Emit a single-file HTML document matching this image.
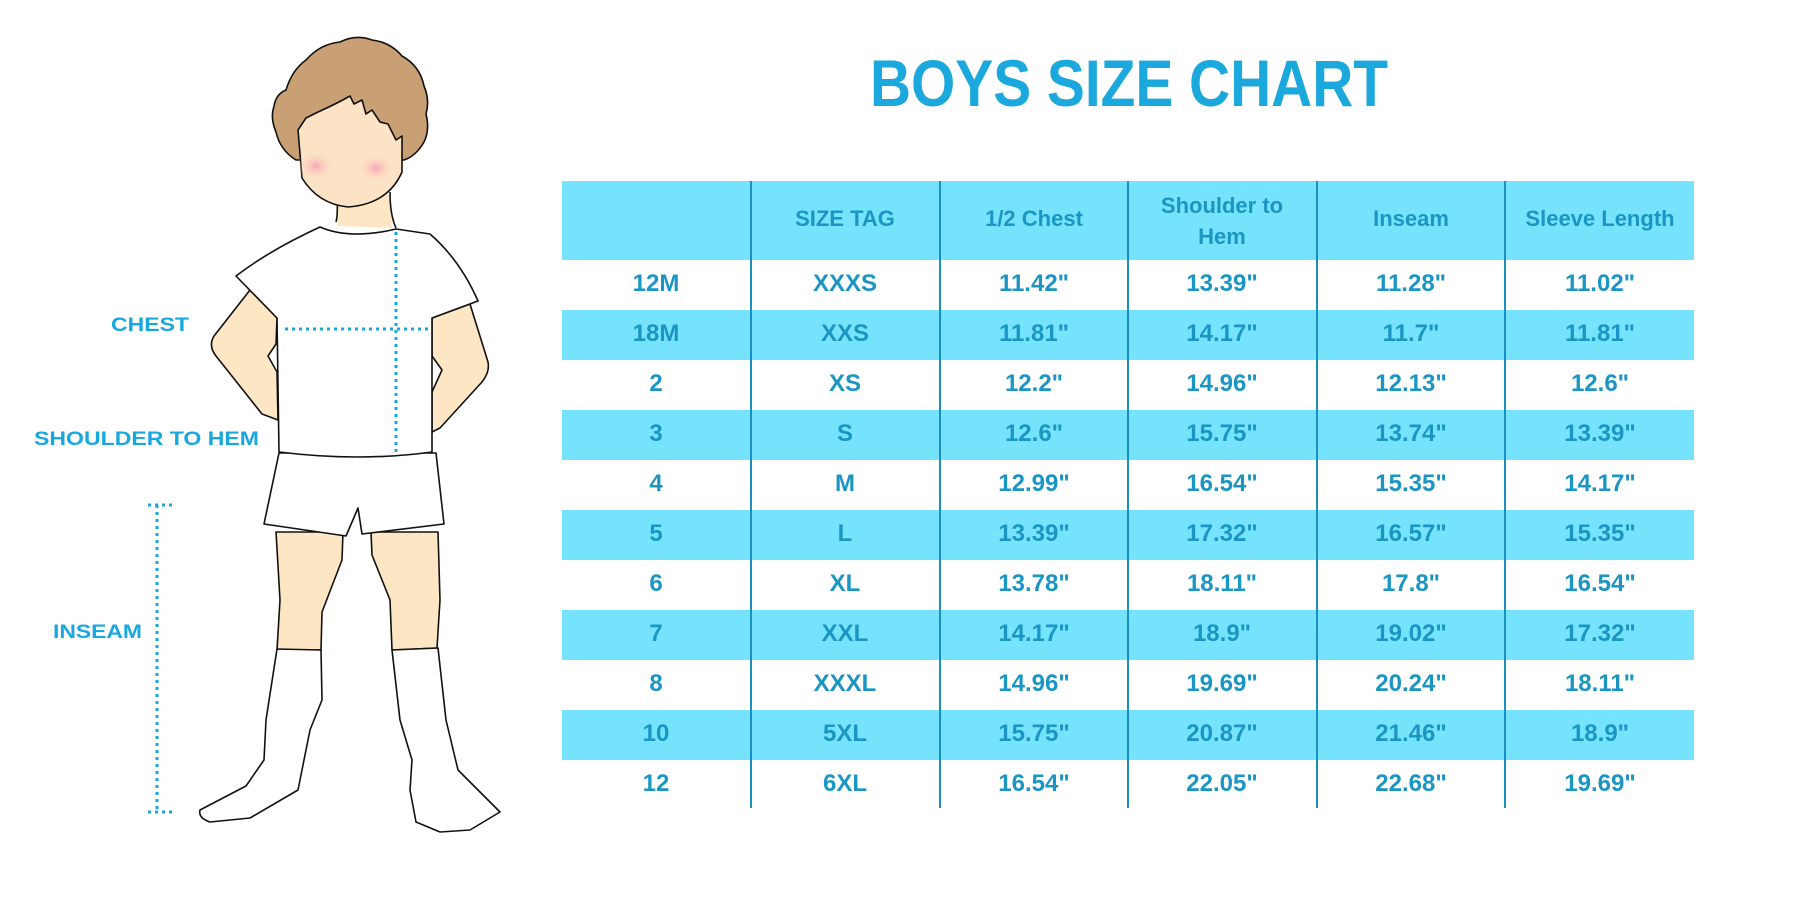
<!DOCTYPE html>
<html><head><meta charset="utf-8"><style>
html,body{margin:0;padding:0;background:#fff;}
svg{display:block;}
text{font-family:"Liberation Sans",sans-serif;font-weight:bold;}
</style></head><body>
<svg width="1800" height="900" viewBox="0 0 1800 900" xmlns="http://www.w3.org/2000/svg">
<rect width="1800" height="900" fill="#fff"/>
<text x="1129" y="106" font-size="66" fill="#1ba8dc" text-anchor="middle" textLength="518" lengthAdjust="spacingAndGlyphs">BOYS SIZE CHART</text>
<g fill="#76e3fd">
<rect x="562" y="181" width="1132" height="79"/>
<rect x="562" y="310" width="1132" height="50"/>
<rect x="562" y="410" width="1132" height="50"/>
<rect x="562" y="510" width="1132" height="50"/>
<rect x="562" y="610" width="1132" height="50"/>
<rect x="562" y="710" width="1132" height="50"/>
</g>
<g stroke="#1a8fc0" stroke-width="2">
<line x1="751" y1="181" x2="751" y2="808"/>
<line x1="940" y1="181" x2="940" y2="808"/>
<line x1="1128" y1="181" x2="1128" y2="808"/>
<line x1="1317" y1="181" x2="1317" y2="808"/>
<line x1="1505" y1="181" x2="1505" y2="808"/>
</g>
<g fill="#1a95c4" font-size="22" text-anchor="middle">
<text x="845" y="226">SIZE TAG</text>
<text x="1034" y="226">1/2 Chest</text>
<text x="1222" y="213">Shoulder to</text>
<text x="1222" y="244">Hem</text>
<text x="1411" y="226">Inseam</text>
<text x="1600" y="226">Sleeve Length</text>
</g>
<g fill="#1a95c4" font-size="24" text-anchor="middle">
<g transform="translate(0,291)">
<text x="656">12M</text><text x="845">XXXS</text><text x="1034">11.42"</text><text x="1222">13.39"</text><text x="1411">11.28"</text><text x="1600">11.02"</text></g>
<g transform="translate(0,341)">
<text x="656">18M</text><text x="845">XXS</text><text x="1034">11.81"</text><text x="1222">14.17"</text><text x="1411">11.7"</text><text x="1600">11.81"</text></g>
<g transform="translate(0,391)">
<text x="656">2</text><text x="845">XS</text><text x="1034">12.2"</text><text x="1222">14.96"</text><text x="1411">12.13"</text><text x="1600">12.6"</text></g>
<g transform="translate(0,441)">
<text x="656">3</text><text x="845">S</text><text x="1034">12.6"</text><text x="1222">15.75"</text><text x="1411">13.74"</text><text x="1600">13.39"</text></g>
<g transform="translate(0,491)">
<text x="656">4</text><text x="845">M</text><text x="1034">12.99"</text><text x="1222">16.54"</text><text x="1411">15.35"</text><text x="1600">14.17"</text></g>
<g transform="translate(0,541)">
<text x="656">5</text><text x="845">L</text><text x="1034">13.39"</text><text x="1222">17.32"</text><text x="1411">16.57"</text><text x="1600">15.35"</text></g>
<g transform="translate(0,591)">
<text x="656">6</text><text x="845">XL</text><text x="1034">13.78"</text><text x="1222">18.11"</text><text x="1411">17.8"</text><text x="1600">16.54"</text></g>
<g transform="translate(0,641)">
<text x="656">7</text><text x="845">XXL</text><text x="1034">14.17"</text><text x="1222">18.9"</text><text x="1411">19.02"</text><text x="1600">17.32"</text></g>
<g transform="translate(0,691)">
<text x="656">8</text><text x="845">XXXL</text><text x="1034">14.96"</text><text x="1222">19.69"</text><text x="1411">20.24"</text><text x="1600">18.11"</text></g>
<g transform="translate(0,741)">
<text x="656">10</text><text x="845">5XL</text><text x="1034">15.75"</text><text x="1222">20.87"</text><text x="1411">21.46"</text><text x="1600">18.9"</text></g>
<g transform="translate(0,791)">
<text x="656">12</text><text x="845">6XL</text><text x="1034">16.54"</text><text x="1222">22.05"</text><text x="1411">22.68"</text><text x="1600">19.69"</text></g>
</g>

<defs>
<radialGradient id="blush" cx="0.5" cy="0.5" r="0.5"><stop offset="0" stop-color="#f7a8b4"/><stop offset="1" stop-color="#fce3c8" stop-opacity="0"/></radialGradient>
</defs>
<g stroke="#111" stroke-width="1.6" stroke-linejoin="round">
<path d="M250 290 L214 336 Q208 346 216 356 L262 414 L278 420 L277 372 L268 356 L276 344 L277 318 Z" fill="#fde6c4"/>
<path d="M432 318 L470 304 L488 362 Q490 372 482 382 L440 428 L432 432 L432 392 L442 370 L432 356 Z" fill="#fde6c4"/>
<path d="M276 532 L343 532 L342 560 L322 612 L321 650 L277 650 L280 600 Z" fill="#fde6c4"/>
<path d="M371 532 L438 532 L440 600 L437 648 L392 650 L390 600 L372 555 Z" fill="#fde6c4"/>
<path d="M277 649 L321 650 L322 700 L310 730 L298 790 L250 818 L210 822 Q198 818 200 810 L246 786 L264 760 L266 720 Z" fill="#fff"/>
<path d="M392 650 L438 648 L446 720 L458 770 L500 812 L470 830 L440 832 L416 822 L410 790 L412 760 L400 720 Z" fill="#fff"/>
<path d="M279 453 L436 453 L444 524 L362 534 L358 508 L346 536 L264 524 Z" fill="#fff"/>
<path d="M337 195 L338 226 L392 228 L390 195 Z" fill="#fde6c4" stroke="none"/>
<path d="M337 195 Q338 215 336 222 M390 192 Q390 215 396 228" fill="none"/>
<path d="M320 227 Q350 240 396 229 L430 234 Q460 260 478 301 L432 318 L432 452 Q360 462 279 452 L277 318 L236 276 Q270 250 320 227 Z" fill="#fff"/>
<!-- hair blob -->
<path d="M296 160 Q280 150 276 132 Q270 118 274 106 Q276 94 286 90 Q292 70 306 60 Q320 44 340 42 Q356 34 372 40 Q390 42 402 56 Q420 66 424 86 Q430 100 426 114 Q430 130 424 142 Q416 156 404 160 Z" fill="#c9a074"/>
<!-- face with jagged bangs -->
<path d="M298 130 L306 118 L318 112 Q336 104 350 96 L354 104 L362 100 L366 114 L372 110 L380 122 L388 124 L396 140 L402 136 L402 172 Q388 204 348 207 Q318 204 302 178 Z" fill="#fde3c6"/>
</g>
<ellipse cx="316" cy="166" rx="20" ry="15" fill="url(#blush)"/>
<ellipse cx="376" cy="168" rx="20" ry="15" fill="url(#blush)"/>
<g stroke="#19a8de" stroke-width="3" stroke-dasharray="3 4" fill="none">
<line x1="285" y1="329" x2="428" y2="329"/>
<line x1="396" y1="232" x2="396" y2="456"/>
<line x1="157" y1="505" x2="157" y2="812"/>
<line x1="148" y1="505" x2="175" y2="505"/>
<line x1="148" y1="812" x2="175" y2="812"/>
</g>
<g fill="#19a8de" font-size="19">
<text x="111" y="331" textLength="78" lengthAdjust="spacingAndGlyphs">CHEST</text>
<text x="34" y="445" textLength="225" lengthAdjust="spacingAndGlyphs">SHOULDER TO HEM</text>
<text x="53" y="638" textLength="89" lengthAdjust="spacingAndGlyphs">INSEAM</text>
</g>
</svg>
</body></html>
